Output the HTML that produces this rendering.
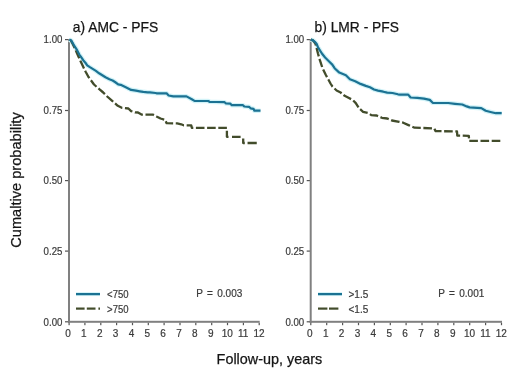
<!DOCTYPE html>
<html><head><meta charset="utf-8"><style>
html,body{margin:0;padding:0;background:#fff;}
body{width:520px;height:377px;overflow:hidden;}
svg{display:block;opacity:0.999;will-change:transform;}
text{font-family:"Liberation Sans",sans-serif;}
.tk{font-size:10px;fill:#3a3a3a;stroke:#3a3a3a;stroke-width:0.2px;}
.pv{font-size:10px;fill:#3a3a3a;stroke:#3a3a3a;stroke-width:0.2px;word-spacing:1.6px;}
.title{font-size:14.1px;fill:#151515;stroke:#151515;stroke-width:0.25px;}
.axl{font-size:14.4px;fill:#151515;stroke:#151515;stroke-width:0.25px;}
.ayl{font-size:14.6px;fill:#151515;stroke:#151515;stroke-width:0.25px;}
</style></head><body>
<svg width="520" height="377" viewBox="0 0 520 377">
<rect width="520" height="377" fill="#fff"/>
<rect x="68.0" y="39.1" width="2" height="283.7" fill="#808080"/>
<rect x="68.0" y="320.8" width="191.7" height="2" fill="#808080"/>
<rect x="65.0" y="39.0" width="3.2" height="1.2" fill="#555"/>
<text x="62.4" y="42.95" text-anchor="end" textLength="18.8" lengthAdjust="spacingAndGlyphs" class="tk">1.00</text>
<rect x="65.0" y="109.9" width="3.2" height="1.2" fill="#555"/>
<text x="62.4" y="114.30" text-anchor="end" textLength="18.8" lengthAdjust="spacingAndGlyphs" class="tk">0.75</text>
<rect x="65.0" y="180.0" width="3.2" height="1.2" fill="#555"/>
<text x="62.4" y="183.75" text-anchor="end" textLength="18.8" lengthAdjust="spacingAndGlyphs" class="tk">0.50</text>
<rect x="65.0" y="250.5" width="3.2" height="1.2" fill="#555"/>
<text x="62.4" y="254.65" text-anchor="end" textLength="18.8" lengthAdjust="spacingAndGlyphs" class="tk">0.25</text>
<rect x="65.0" y="321.2" width="3.2" height="1.2" fill="#555"/>
<text x="62.4" y="325.80" text-anchor="end" textLength="18.8" lengthAdjust="spacingAndGlyphs" class="tk">0.00</text>
<rect x="68.5" y="322.8" width="1.2" height="2.4" fill="#555"/>
<text x="68.1" y="336.9" text-anchor="middle" class="tk">0</text>
<rect x="84.3" y="322.8" width="1.2" height="2.4" fill="#555"/>
<text x="83.9" y="336.9" text-anchor="middle" class="tk">1</text>
<rect x="100.2" y="322.8" width="1.2" height="2.4" fill="#555"/>
<text x="99.8" y="336.9" text-anchor="middle" class="tk">2</text>
<rect x="116.0" y="322.8" width="1.2" height="2.4" fill="#555"/>
<text x="115.6" y="336.9" text-anchor="middle" class="tk">3</text>
<rect x="131.9" y="322.8" width="1.2" height="2.4" fill="#555"/>
<text x="131.5" y="336.9" text-anchor="middle" class="tk">4</text>
<rect x="147.7" y="322.8" width="1.2" height="2.4" fill="#555"/>
<text x="147.3" y="336.9" text-anchor="middle" class="tk">5</text>
<rect x="163.5" y="322.8" width="1.2" height="2.4" fill="#555"/>
<text x="163.1" y="336.9" text-anchor="middle" class="tk">6</text>
<rect x="179.4" y="322.8" width="1.2" height="2.4" fill="#555"/>
<text x="179.0" y="336.9" text-anchor="middle" class="tk">7</text>
<rect x="195.2" y="322.8" width="1.2" height="2.4" fill="#555"/>
<text x="194.8" y="336.9" text-anchor="middle" class="tk">8</text>
<rect x="211.1" y="322.8" width="1.2" height="2.4" fill="#555"/>
<text x="210.7" y="336.9" text-anchor="middle" class="tk">9</text>
<rect x="226.9" y="322.8" width="1.2" height="2.4" fill="#555"/>
<text x="227.3" y="336.9" text-anchor="middle" class="tk">10</text>
<rect x="242.8" y="322.8" width="1.2" height="2.4" fill="#555"/>
<text x="243.2" y="336.9" text-anchor="middle" class="tk">11</text>
<rect x="258.6" y="322.8" width="1.2" height="2.4" fill="#555"/>
<text x="259.0" y="336.9" text-anchor="middle" class="tk">12</text>
<text x="72.8" y="32.3" textLength="85.4" lengthAdjust="spacingAndGlyphs" class="title">a) AMC - PFS</text>
<polyline points="69.2,39.6 71.3,40.6 74.0,45.3 76.6,49.3 79.3,54.6 80.8,56.6 83.2,60.2 85.6,63.0 87.2,65.3 89.5,66.9 92.7,68.9 95.9,70.9 99.1,73.3 102.3,75.3 105.5,77.3 109.4,79.3 112.6,80.5 115.0,82.0 118.2,84.4 120.7,84.8 125.8,87.2 131.1,89.9 136.0,90.6 139.7,91.3 143.3,91.9 147.7,92.3 149.9,92.4 155.6,93.0 156.5,93.3 166.6,93.3 168.6,95.5 173.3,96.3 186.5,96.4 191.8,99.3 194.5,100.9 208.2,101.0 209.5,101.8 216.0,102.0 224.6,102.2 226.0,103.5 230.4,103.7 231.8,105.2 243.0,105.2 244.3,106.5 249.0,106.8 250.6,108.3 253.5,108.8 254.4,110.7 260.5,110.7" fill="none" stroke="#d2f3f8" stroke-width="4.6" stroke-linejoin="round"/>
<polyline points="69.2,39.6 71.0,40.8 73.0,44.5 75.0,48.6 77.0,53.2 79.0,57.8 80.7,61.5 83.2,66.7 85.5,71.5 88.5,77.0 91.1,80.5 94.0,84.5 99.3,89.2 103.2,92.5 107.2,96.5 112.5,101.2 117.8,105.8 121.8,107.8 128.4,108.5 131.1,111.1 135.0,112.4 138.0,112.5 141.9,114.7 153.2,114.7 156.5,116.5 160.5,118.5 165.1,119.8 166.6,123.2 177.2,123.4 181.2,124.3 183.6,125.3 191.3,125.4 191.8,127.8 226.9,127.8" fill="none" stroke="#424c2b" stroke-width="2.3" stroke-dasharray="8.6 2.6" stroke-dashoffset="9.53" stroke-linejoin="round"/>
<polyline points="226.9,127.8 226.9,136.8 243.2,136.8 243.2,143.0 256.8,143.0" fill="none" stroke="#424c2b" stroke-width="2.3" stroke-dasharray="0 3.0 7.6 3.5 8.6 4.3 6.1 2.75 9.2 30" stroke-linejoin="round"/>
<polyline points="69.2,39.6 71.3,40.6 74.0,45.3 76.6,49.3 79.3,54.6 80.8,56.6 83.2,60.2 85.6,63.0 87.2,65.3 89.5,66.9 92.7,68.9 95.9,70.9 99.1,73.3 102.3,75.3 105.5,77.3 109.4,79.3 112.6,80.5 115.0,82.0 118.2,84.4 120.7,84.8 125.8,87.2 131.1,89.9 136.0,90.6 139.7,91.3 143.3,91.9 147.7,92.3 149.9,92.4 155.6,93.0 156.5,93.3 166.6,93.3 168.6,95.5 173.3,96.3 186.5,96.4 191.8,99.3 194.5,100.9 208.2,101.0 209.5,101.8 216.0,102.0 224.6,102.2 226.0,103.5 230.4,103.7 231.8,105.2 243.0,105.2 244.3,106.5 249.0,106.8 250.6,108.3 253.5,108.8 254.4,110.7 260.5,110.7" fill="none" stroke="#1b7293" stroke-width="2.2" stroke-linejoin="round"/>
<line x1="76" y1="294.1" x2="100" y2="294.1" stroke="#d2f3f8" stroke-width="4"/><line x1="76" y1="294.1" x2="100" y2="294.1" stroke="#1b7293" stroke-width="2.2"/>
<line x1="76" y1="308.6" x2="84.6" y2="308.6" stroke="#424c2b" stroke-width="2.2"/>
<line x1="86.8" y1="308.6" x2="95.5" y2="308.6" stroke="#424c2b" stroke-width="2.2"/>
<line x1="98.4" y1="308.6" x2="100" y2="308.6" stroke="#424c2b" stroke-width="2.2"/>
<text x="107.1" y="297.6" textLength="21.4" lengthAdjust="spacingAndGlyphs" class="tk">&lt;750</text>
<text x="107.1" y="312.5" textLength="21.4" lengthAdjust="spacingAndGlyphs" class="tk">&gt;750</text>
<text x="196.2" y="297.4" class="pv">P = 0.003</text>
<rect x="309.7" y="39.1" width="2" height="283.7" fill="#808080"/>
<rect x="309.7" y="320.8" width="192.3" height="2" fill="#808080"/>
<rect x="306.7" y="39.0" width="3.2" height="1.2" fill="#555"/>
<text x="304.2" y="42.95" text-anchor="end" textLength="18.8" lengthAdjust="spacingAndGlyphs" class="tk">1.00</text>
<rect x="306.7" y="109.9" width="3.2" height="1.2" fill="#555"/>
<text x="304.2" y="114.30" text-anchor="end" textLength="18.8" lengthAdjust="spacingAndGlyphs" class="tk">0.75</text>
<rect x="306.7" y="180.0" width="3.2" height="1.2" fill="#555"/>
<text x="304.2" y="183.75" text-anchor="end" textLength="18.8" lengthAdjust="spacingAndGlyphs" class="tk">0.50</text>
<rect x="306.7" y="250.5" width="3.2" height="1.2" fill="#555"/>
<text x="304.2" y="254.65" text-anchor="end" textLength="18.8" lengthAdjust="spacingAndGlyphs" class="tk">0.25</text>
<rect x="306.7" y="321.2" width="3.2" height="1.2" fill="#555"/>
<text x="304.2" y="325.80" text-anchor="end" textLength="18.8" lengthAdjust="spacingAndGlyphs" class="tk">0.00</text>
<rect x="310.2" y="322.8" width="1.2" height="2.4" fill="#555"/>
<text x="309.8" y="336.9" text-anchor="middle" class="tk">0</text>
<rect x="326.1" y="322.8" width="1.2" height="2.4" fill="#555"/>
<text x="325.7" y="336.9" text-anchor="middle" class="tk">1</text>
<rect x="342.0" y="322.8" width="1.2" height="2.4" fill="#555"/>
<text x="341.6" y="336.9" text-anchor="middle" class="tk">2</text>
<rect x="357.9" y="322.8" width="1.2" height="2.4" fill="#555"/>
<text x="357.5" y="336.9" text-anchor="middle" class="tk">3</text>
<rect x="373.8" y="322.8" width="1.2" height="2.4" fill="#555"/>
<text x="373.4" y="336.9" text-anchor="middle" class="tk">4</text>
<rect x="389.7" y="322.8" width="1.2" height="2.4" fill="#555"/>
<text x="389.3" y="336.9" text-anchor="middle" class="tk">5</text>
<rect x="405.5" y="322.8" width="1.2" height="2.4" fill="#555"/>
<text x="405.1" y="336.9" text-anchor="middle" class="tk">6</text>
<rect x="421.4" y="322.8" width="1.2" height="2.4" fill="#555"/>
<text x="421.0" y="336.9" text-anchor="middle" class="tk">7</text>
<rect x="437.3" y="322.8" width="1.2" height="2.4" fill="#555"/>
<text x="436.9" y="336.9" text-anchor="middle" class="tk">8</text>
<rect x="453.2" y="322.8" width="1.2" height="2.4" fill="#555"/>
<text x="452.8" y="336.9" text-anchor="middle" class="tk">9</text>
<rect x="469.1" y="322.8" width="1.2" height="2.4" fill="#555"/>
<text x="469.5" y="336.9" text-anchor="middle" class="tk">10</text>
<rect x="485.0" y="322.8" width="1.2" height="2.4" fill="#555"/>
<text x="485.4" y="336.9" text-anchor="middle" class="tk">11</text>
<rect x="500.9" y="322.8" width="1.2" height="2.4" fill="#555"/>
<text x="501.3" y="336.9" text-anchor="middle" class="tk">12</text>
<text x="314.6" y="32.3" textLength="84.3" lengthAdjust="spacingAndGlyphs" class="title">b) LMR - PFS</text>
<polyline points="310.8,39.6 313.0,40.4 315.2,42.2 316.7,44.0 317.9,47.1 319.9,50.3 321.9,53.5 325.1,57.5 329.1,61.5 332.3,64.6 334.6,68.2 339.3,72.6 345.9,75.3 349.9,79.3 355.2,81.3 360.5,83.9 365.8,85.9 370.0,87.3 374.0,89.5 378.0,90.6 383.3,91.7 387.2,92.6 392.5,93.0 397.9,94.3 400.0,94.6 408.2,94.6 410.6,97.5 417.3,97.8 424.0,98.7 429.8,99.9 432.7,102.8 448.2,103.0 455.0,103.8 462.3,104.5 466.7,106.4 469.6,107.4 481.3,108.1 485.7,110.8 491.5,112.2 495.9,113.2 501.7,113.2" fill="none" stroke="#d2f3f8" stroke-width="4.6" stroke-linejoin="round"/>
<polyline points="310.8,39.6 313.0,40.4 315.4,43.5 316.2,46.6 317.9,53.2 319.8,59.9 322.4,67.8 325.6,74.5 328.5,79.8 330.5,83.5 332.5,86.6 336.6,90.5 340.6,92.5 344.6,95.8 348.5,97.8 352.5,99.8 355.8,103.1 359.2,108.4 363.1,111.8 368.4,113.1 371.3,115.1 376.6,115.5 381.9,117.8 387.2,118.5 391.9,120.5 399.2,121.8 403.2,122.7 408.5,125.1 411.0,126.2 414.5,127.7 434.2,128.4 435.6,131.1 455.0,131.4 457.0,131.5 457.3,135.6 468.8,135.8 469.2,140.8 500.3,140.8" fill="none" stroke="#424c2b" stroke-width="2.3" stroke-dasharray="8.6 2.6" stroke-dashoffset="0.28" stroke-linejoin="round"/>
<polyline points="310.8,39.6 313.0,40.4 315.2,42.2 316.7,44.0 317.9,47.1 319.9,50.3 321.9,53.5 325.1,57.5 329.1,61.5 332.3,64.6 334.6,68.2 339.3,72.6 345.9,75.3 349.9,79.3 355.2,81.3 360.5,83.9 365.8,85.9 370.0,87.3 374.0,89.5 378.0,90.6 383.3,91.7 387.2,92.6 392.5,93.0 397.9,94.3 400.0,94.6 408.2,94.6 410.6,97.5 417.3,97.8 424.0,98.7 429.8,99.9 432.7,102.8 448.2,103.0 455.0,103.8 462.3,104.5 466.7,106.4 469.6,107.4 481.3,108.1 485.7,110.8 491.5,112.2 495.9,113.2 501.7,113.2" fill="none" stroke="#1b7293" stroke-width="2.2" stroke-linejoin="round"/>
<line x1="318" y1="294.1" x2="342" y2="294.1" stroke="#d2f3f8" stroke-width="4"/><line x1="318" y1="294.1" x2="342" y2="294.1" stroke="#1b7293" stroke-width="2.2"/>
<line x1="318" y1="308.6" x2="327.4" y2="308.6" stroke="#424c2b" stroke-width="2.2"/>
<line x1="329" y1="308.6" x2="338.4" y2="308.6" stroke="#424c2b" stroke-width="2.2"/>
<text x="348.5" y="297.6"  class="tk">&gt;1.5</text>
<text x="348.5" y="312.5"  class="tk">&lt;1.5</text>
<text x="438.2" y="297.4" class="pv">P = 0.001</text>
<text transform="translate(20.9,180.0) rotate(-90)" text-anchor="middle" class="ayl">Cumaltive probability</text>
<text x="216.6" y="363.8" class="axl">Follow-up, years</text>
</svg>
</body></html>
